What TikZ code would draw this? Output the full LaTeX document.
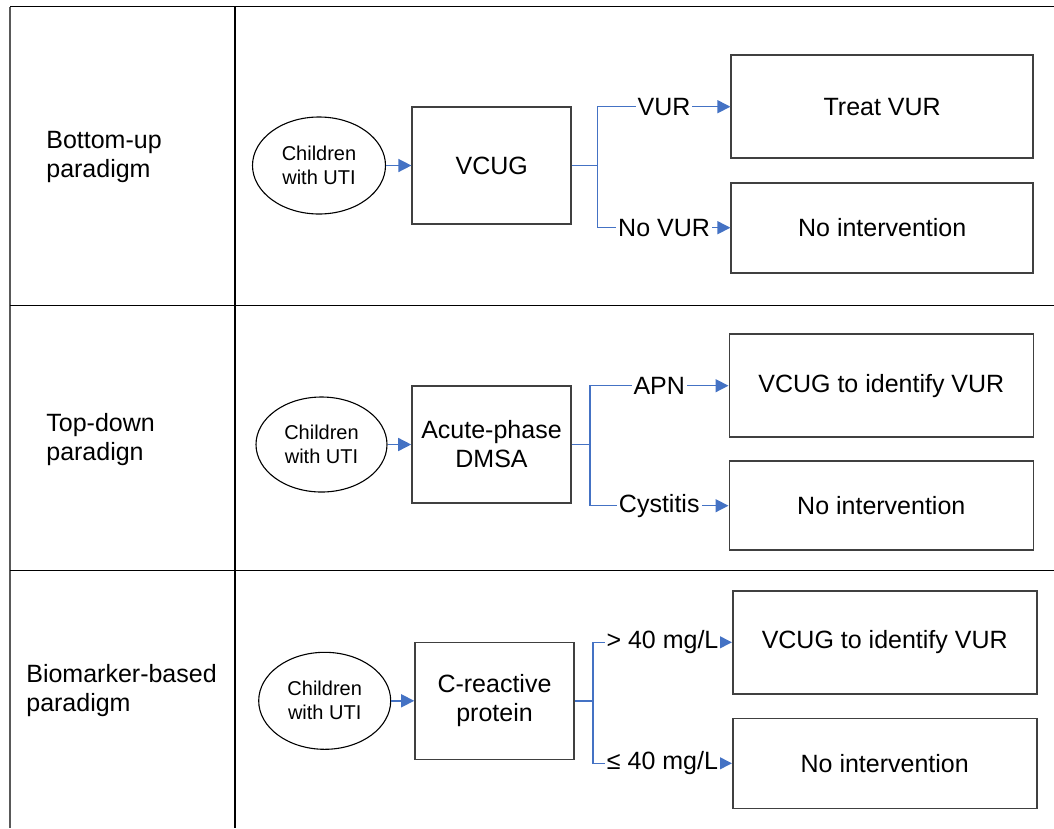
\documentclass[tikz,border=0pt]{standalone}
\usepackage{fontspec}
\setmainfont{Liberation Sans}
\usetikzlibrary{shapes.geometric,arrows.meta}
\definecolor{flowblue}{HTML}{4472C4}
\definecolor{boxgray}{HTML}{404040}
\tikzset{every picture/.style={line width=1.3pt}}
\tikzset{
	uti/.style={ellipse,draw=black,line width=1.1pt,minimum width=133pt,minimum height=97pt,inner sep=0pt,align=center,font=\fontsize{20}{24}\selectfont},
	test/.style={rectangle,draw=boxgray,line width=1.6pt,minimum width=159pt,minimum height=117pt,align=center,font=\fontsize{25}{29}\selectfont},
	result/.style={rectangle,draw=boxgray,line width=1.6pt,minimum width=302pt,align=center,font=\fontsize{25}{29}\selectfont},
	cond/.style={fill=white,inner sep=2pt,font=\fontsize{25}{29}\selectfont},
	flow/.style={draw=flowblue,line width=1.5pt,-{Triangle[length=13pt,width=13pt]}},
	paradigm/.style={anchor=west,align=left,inner sep=0pt,font=\fontsize{25}{29}\selectfont},
}
\begin{document}
\begin{tikzpicture}[x=1pt,y=-1pt]
	\useasboundingbox (0,0) rectangle (1054,828);
	% 表の罫線
	\draw (10,6.7)--(1054,6.7); %上
	\draw[line width=2.2pt,black!65] (10,6.7)--(10,828); %左
	\draw (235,6.7)--(235,828);
	\draw (10,305.7)--(1054,305.7);
	\draw (10,570.7)--(1054,570.7);

	% Bottom-up
	\node[paradigm] (par1) at (45.7,157) {Bottom-up\\paradigm};
	\node[uti] (uti1) at (319,165.5) {Children\\with UTI};
	\node[test] (vcug) at (491.7,165.5) {VCUG};
	\node[result,minimum height=103pt] (treat) at (882.2,106.7) {Treat VUR};
	\node[result,minimum height=90pt] (none1) at (882.2,227.7) {No intervention};
	\coordinate (br1) at (597.7,165.5);
	\draw[flow] (uti1)--(vcug);
	\draw[flowblue,line width=1.5pt] (vcug.east)--(br1); %分岐まで
	\draw[flow] (br1) |- node[cond,pos=0.75]{VUR} (treat.west);
	\draw[flow] (br1) |- node[cond,pos=0.75]{No VUR} (none1.west);

	% Top-down
	\node[paradigm] (par2) at (45.7,440) {Top-down\\paradign};
	\node[uti,minimum width=131pt,minimum height=95pt] (uti2) at (321.5,444.5) {Children\\with UTI};
	\node[test] (dmsa) at (491.5,444.5) {Acute-phase\\DMSA};
	\node[result,minimum width=304pt,minimum height=103pt] (vcug2) at (881.3,385.7) {VCUG to identify VUR};
	\node[result,minimum width=304pt,minimum height=89pt] (none2) at (881.3,505.7) {No intervention};
	\coordinate (br2) at (590,444.5);
	\draw[flow] (uti2)--(dmsa);
	\draw[flowblue,line width=1.5pt] (dmsa.east)--(br2);
	\draw[flow] (br2) |- node[cond,pos=0.75]{APN} (vcug2.west);
	\draw[flow] (br2) |- node[cond,pos=0.75]{Cystitis} (none2.west);

	% Biomarker-based
	\node[paradigm] (par3) at (25.7,691) {Biomarker-based\\paradigm};
	\node[uti,minimum width=132pt] (uti3) at (324.7,700.8) {Children\\with UTI};
	\node[test] (crp) at (494.5,700.8) {C-reactive\\protein};
	\node[result,minimum width=304pt,minimum height=103pt] (vcug3) at (884.7,642.3) {VCUG to identify VUR};
	\node[result,minimum width=304pt,minimum height=90pt] (none3) at (884.7,763.3) {No intervention};
	\coordinate (br3) at (593,700.8);
	\draw[flow] (uti3)--(crp);
	\draw[flowblue,line width=1.5pt] (crp.east)--(br3);
	\draw[flow] (br3) |- node[cond,pos=0.75]{> 40 mg/L} (vcug3.west);
	\draw[flow] (br3) |- node[cond,pos=0.75]{≤ 40 mg/L} (none3.west);
\end{tikzpicture}
\end{document}
